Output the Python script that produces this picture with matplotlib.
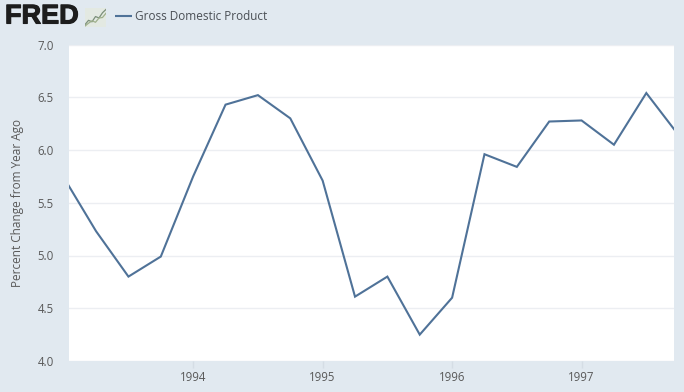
import matplotlib
matplotlib.use('Agg')
import matplotlib.pyplot as plt
import matplotlib.patheffects as pe
import numpy as np

plt.rcParams['font.family'] = ['Open Sans', 'DejaVu Sans']

# quarters, as year fractions
dates = [1993.0, 1993.25, 1993.5, 1993.75,
         1994.0, 1994.25, 1994.5, 1994.75,
         1995.0, 1995.25, 1995.5, 1995.75,
         1996.0, 1996.25, 1996.5, 1996.75,
         1997.0, 1997.25, 1997.5, 1997.75]
gdp_change = [5.74, 5.23, 4.80, 4.99,
              5.75, 6.43, 6.52, 6.30,
              5.71, 4.61, 4.80, 4.25,
              4.60, 5.96, 5.84, 6.27,
              6.28, 6.05, 6.54, 6.14]
year_ticks = [1994, 1995, 1996, 1997]
y_ticks = [4.0, 4.5, 5.0, 5.5, 6.0, 6.5, 7.0]
icon_x = [0, 1, 2, 3, 4, 5, 6]
icon_a = [0.5, 1.4, 1.1, 2.2, 1.9, 3.0, 3.7]
icon_b = [0.2, 0.8, 1.3, 1.0, 1.9, 2.0, 2.9]

W, H = 684, 392
bg = '#e1e9f0'
line_color = '#4f7298'
text_color = '#595959'

fig = plt.figure(figsize=(W / 100, H / 100), dpi=100, facecolor=bg)
ax = fig.add_axes([68.5 / W, 1 - 361 / H, (673.5 - 68.5) / W, (361 - 44.5) / H])
ax.set_facecolor('white')

ax.plot(dates, gdp_change, color=line_color, linewidth=1.5, solid_joinstyle='miter')

ax.set_xlim(1993.037, 1997.71)
ax.set_ylim(4.0, 7.0)
ax.set_yticks(y_ticks)
ax.set_xticks(year_ticks)
ax.set_yticklabels(['%.1f' % v for v in y_ticks])
ax.grid(axis='y', color='#eceef2', linewidth=1)
ax.set_axisbelow(True)
for s in ax.spines.values():
    s.set_visible(False)
ax.tick_params(axis='y', length=0, labelsize=8.3, labelcolor=text_color, pad=10.5)
ax.tick_params(axis='x', length=5, width=1, color='#d5dde5', labelsize=8.3,
               labelcolor=text_color, pad=2.5)
ax.set_ylabel('Percent Change from Year Ago', fontsize=8.5, color=text_color, labelpad=9.5)

# header: logo and legend
fig.text(5 / W, 1 - 16.5 / H, 'FRED', fontsize=19.5, fontweight='bold', color='#1d1d1d',
         va='center', ha='left', family=['Liberation Sans', 'DejaVu Sans'],
         path_effects=[pe.withStroke(linewidth=0.8, foreground='#1d1d1d')])

icon = fig.add_axes([85 / W, 1 - 27 / H, 21 / W, 19 / H])
icon.set_facecolor('#e3e9e2')
icon.plot(icon_x, icon_a, color='#7b8f7a', linewidth=0.9)
icon.plot(icon_x, icon_b, color='#9fb08c', linewidth=0.9)
icon.set_xlim(0, 6)
icon.set_ylim(0, 4)
icon.set_xticks([])
icon.set_yticks([])
for s in icon.spines.values():
    s.set_visible(False)

legend_ax = fig.add_axes([115 / W, 1 - 20 / H, 17 / W, 8 / H])
legend_ax.plot([0, 1], [0.5, 0.5], color=line_color, linewidth=1.5)
legend_ax.set_xlim(0, 1)
legend_ax.set_ylim(0, 1)
legend_ax.axis('off')
fig.text(135 / W, 1 - 16 / H, 'Gross Domestic Product', fontsize=8.5, color='#4a4f55',
         va='center', ha='left')

fig.savefig('out.png', dpi=100, facecolor=bg)
